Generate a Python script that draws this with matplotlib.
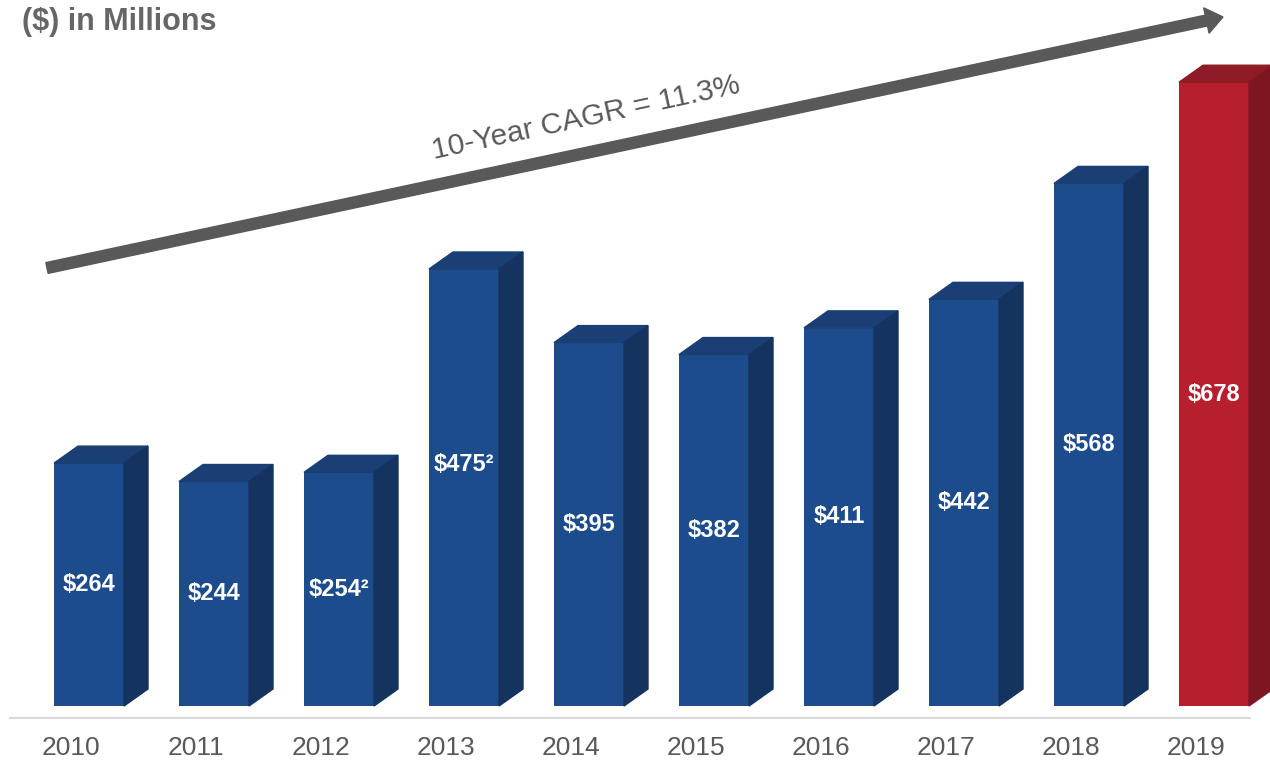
import numpy as np
import matplotlib
matplotlib.use("Agg")
import matplotlib.pyplot as plt
from matplotlib.patches import Polygon, FancyArrow
from matplotlib.transforms import Affine2D

plt.rcParams['font.family'] = ['Liberation Sans', 'DejaVu Sans']

years = ['2010', '2011', '2012', '2013', '2014', '2015', '2016', '2017', '2018', '2019']
values = [264, 244, 254, 475, 395, 382, 411, 442, 568, 678]
labels = ['$264', '$244', '$254\u00b2', '$475\u00b2', '$395', '$382', '$411', '$442', '$568', '$678']

blue = ('#1d4c8c', '#1a3f75', '#14335f')   # front, top, side
red = ('#b71f2e', '#8f1b27', '#7d1621')

fig = plt.figure(figsize=(12.7, 7.66), dpi=100)
ax = fig.add_axes([0, 0, 1, 1])
ax.set_xlim(-0.712, 9.448)
ax.set_ylim(-65.2, 767.4)
ax.axis('off')

w = 0.56
dx = 0.192   # depth to the right
dy = 18.5    # depth upwards

x = np.arange(len(years))
for i, v in enumerate(values):
    front, top, side = red if i == len(values) - 1 else blue
    ax.bar(x[i], v, width=w, color=front, zorder=3)
    x0, x1 = x[i] - w / 2, x[i] + w / 2
    ax.add_patch(Polygon([(x0, v), (x0 + dx, v + dy), (x1 + dx, v + dy), (x1, v)],
                         closed=True, color=top, zorder=3))
    ax.add_patch(Polygon([(x1, 0), (x1 + dx, dy), (x1 + dx, v + dy), (x1, v)],
                         closed=True, color=side, zorder=3))
    ly = v / 2
    if years[i] == '2013':
        ly = 263
    ax.text(x[i], ly, labels[i], color='white', fontsize=17, fontweight='bold',
            ha='center', va='center', zorder=4, parse_math=False)
    ax.text(x[i] - 0.144, -45.7, years[i], color='#595959', fontsize=19,
            ha='center', va='center')

# baseline
ax.plot([-0.632, 9.288], [-13, -13], color='#d9d9d9', lw=1.5, zorder=2)

# CAGR arrow, drawn in pixel units
px = Affine2D().scale(1 / 100) + fig.dpi_scale_trans
x_start, y_start = 47, 766 - 268
x_tip, y_tip = 1223, 766 - 17
arr = FancyArrow(x_start, y_start, x_tip - x_start, y_tip - y_start, width=11,
                 head_width=26, head_length=17, length_includes_head=True,
                 color='#595959', transform=px, zorder=5)
fig.add_artist(arr)

fig.text(586 / 1270, 1 - 118 / 766, '10-Year CAGR = 11.3%', color='#595959',
         fontsize=21.5, rotation=12.2, ha='center', va='center',
         rotation_mode='anchor')

fig.text(22 / 1270, 1 - 22 / 766, '($) in Millions', color='#666666',
         fontsize=22, fontweight='bold', ha='left', va='center', parse_math=False)

plt.savefig('out.png', dpi=100)
